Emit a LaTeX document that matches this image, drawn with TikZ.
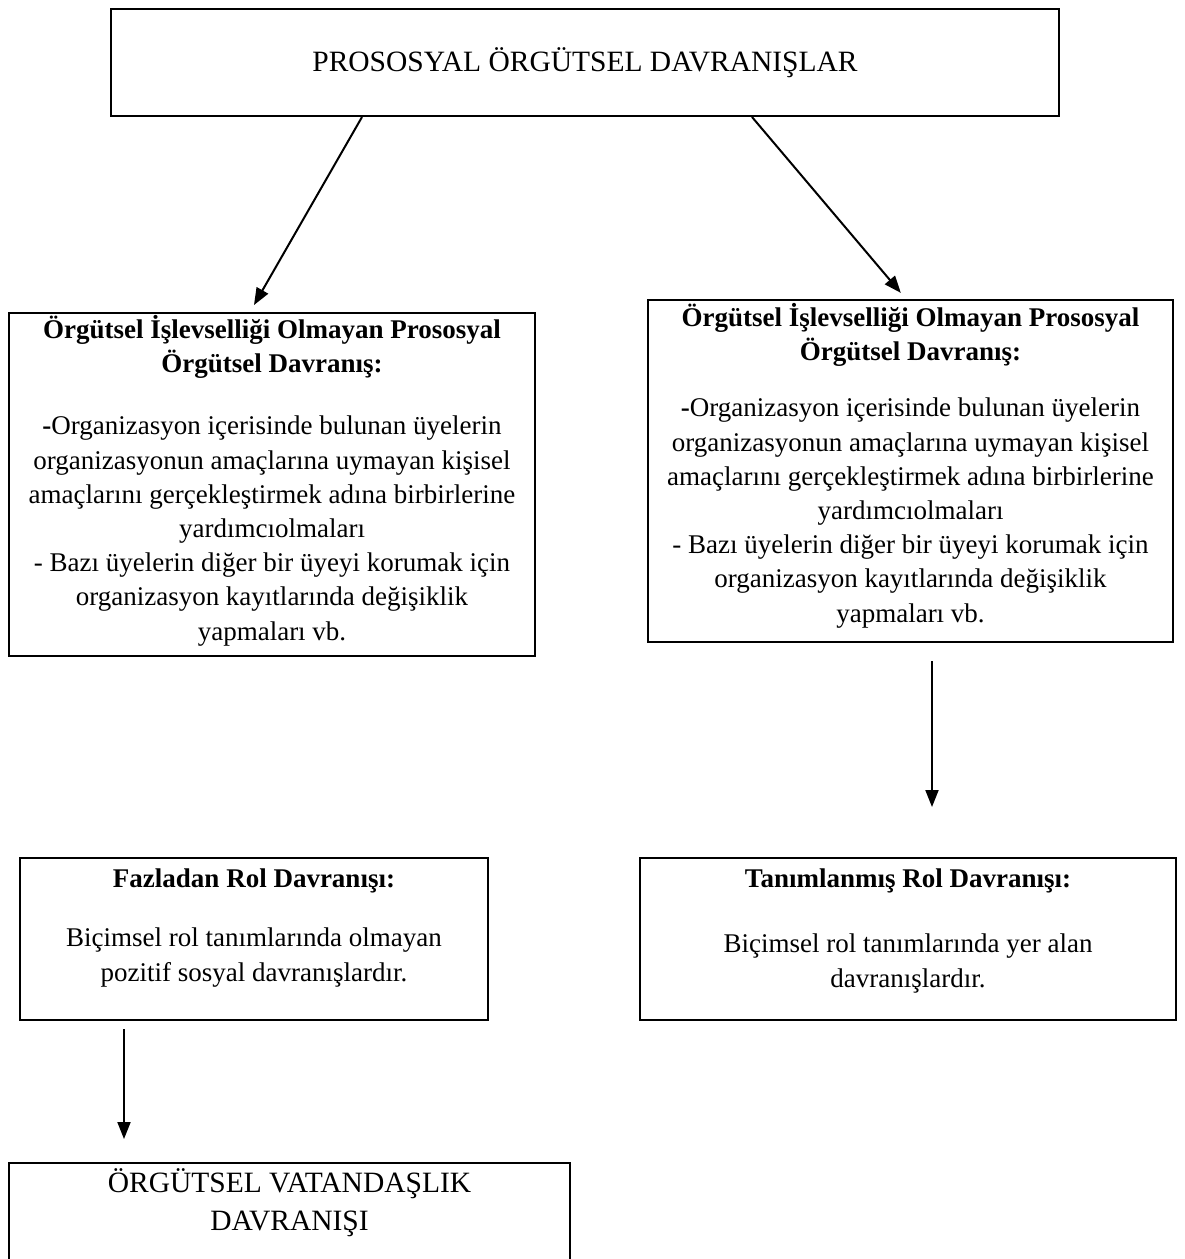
\documentclass[tikz,border=0pt]{standalone}
\usepackage{fontspec}
\setmainfont{Liberation Serif}
\usetikzlibrary{arrows.meta}
\begin{document}
\begin{tikzpicture}[x=1pt,y=-1pt,
  boxnode/.style={draw=black,line width=2pt,rectangle,inner sep=0pt},
  bodytext/.style={align=center,inner sep=0pt,font=\fontsize{27}{34.2}\selectfont},
  bigtext/.style={align=center,inner sep=0pt,font=\fontsize{29.5}{38}\selectfont},
  arr/.style={line width=2pt,-{Triangle[length=17pt,width=13pt]}}]
\useasboundingbox (0,0) rectangle (1184,1259);
\clip (0,0) rectangle (1184,1259);
% boxes
\node[boxnode,minimum width=948pt,minimum height=107pt,bigtext] (top) at (585,62.5) {PROSOSYAL ÖRGÜTSEL DAVRANIŞLAR};
\node[boxnode,minimum width=526pt,minimum height=343pt] (lbox) at (272,484.5) {};
\node[boxnode,minimum width=525pt,minimum height=342pt] (rbox) at (910.5,471) {};
\node[boxnode,minimum width=468pt,minimum height=162pt] (fbox) at (254,939) {};
\node[boxnode,minimum width=536pt,minimum height=162pt] (tbox) at (908,939) {};
\node[boxnode,minimum width=561pt,minimum height=130pt] (vbox) at (289.5,1228) {};
% texts
\node[bodytext,anchor=north] (ltitle) at (272,315) {\bfseries Örgütsel İşlevselliği Olmayan Prososyal\\\bfseries Örgütsel Davranış:};
\node[bodytext,anchor=north] (lbody) at (272,416) {\textbf{-}Organizasyon içerisinde bulunan üyelerin\\organizasyonun amaçlarına uymayan kişisel\\amaçlarını gerçekleştirmek adına birbirlerine\\yardımcıolmaları\\- Bazı üyelerin diğer bir üyeyi korumak için\\organizasyon kayıtlarında değişiklik\\yapmaları vb.};
\node[bodytext,anchor=north] (rtitle) at (910.5,303) {\bfseries Örgütsel İşlevselliği Olmayan Prososyal\\\bfseries Örgütsel Davranış:};
\node[bodytext,anchor=north] (rbody) at (910.5,398) {\textbf{-}Organizasyon içerisinde bulunan üyelerin\\organizasyonun amaçlarına uymayan kişisel\\amaçlarını gerçekleştirmek adına birbirlerine\\yardımcıolmaları\\- Bazı üyelerin diğer bir üyeyi korumak için\\organizasyon kayıtlarında değişiklik\\yapmaları vb.};
\node[bodytext,anchor=north] (ftitle) at (254,869) {\bfseries Fazladan Rol Davranışı:};
\node[bodytext,anchor=north] (fbody) at (254,928) {Biçimsel rol tanımlarında olmayan\\pozitif sosyal davranışlardır.};
\node[bodytext,anchor=north] (ttitle) at (908,869) {\bfseries Tanımlanmış Rol Davranışı:};
\node[bodytext,anchor=north] (tbody) at (908,934) {Biçimsel rol tanımlarında yer alan\\davranışlardır.};
\node[bigtext,anchor=north] (vtext) at (289.5,1168) {ÖRGÜTSEL VATANDAŞLIK\\DAVRANIŞI};
% connectors
\draw[arr,shorten >=8pt] ([xshift=-223pt]top.south) -- ([xshift=-22pt]lbox.north);
\draw[arr,shorten >=8pt] ([xshift=167pt]top.south) -- ([xshift=-4.5pt]rbox.north);
\draw[arr,shorten <=18pt,shorten >=50pt] ([xshift=21.5pt]rbox.south) -- ([xshift=24pt]tbox.north);
\draw[arr,shorten <=8pt,shorten >=23pt] ([xshift=-130pt]fbox.south) -- ([xshift=-165.5pt]vbox.north);
\end{tikzpicture}
\end{document}
